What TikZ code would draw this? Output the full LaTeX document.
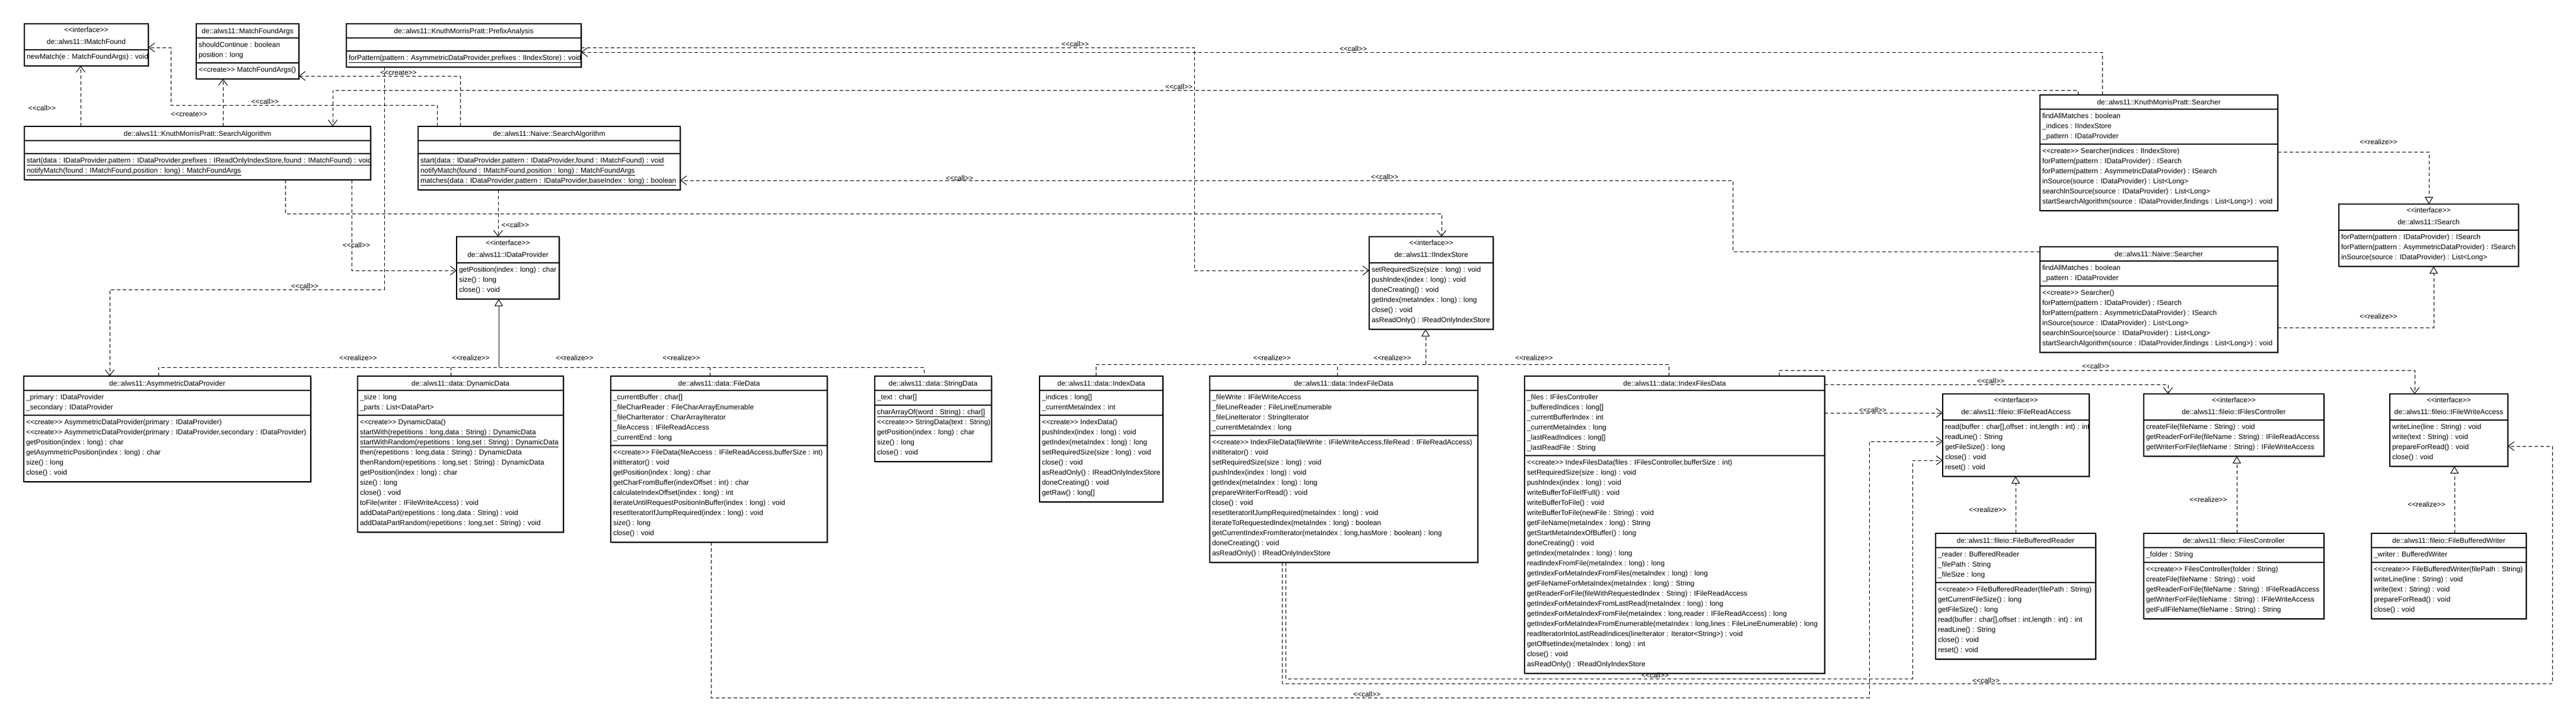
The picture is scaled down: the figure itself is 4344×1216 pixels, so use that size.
\documentclass[tikz,border=0pt]{standalone}
\usepackage{fontspec}
\setmainfont{Liberation Sans}
\usetikzlibrary{arrows.meta,shadows}
\newcounter{na}\newcounter{nm}
\newcommand\stq[1]{<\kern0pt<#1>\kern0pt>}
\newcommand\crt{\stq{create}}
\newcommand\itf{\stq{interface}}
\newcommand\cll{\stq{call}}
\newcommand\rlz{\stq{realize}}
\tikzset{
 clsbox/.style={draw=black, line width=1.3pt, fill=white, anchor=north west, inner sep=0pt, outer sep=0pt,
   general shadow={fill=black!30, shadow xshift=2pt, shadow yshift=-2pt}},
 sepline/.style={draw=black, line width=1.3pt},
 txt/.style={inner sep=0pt, outer sep=0pt, font=\fontsize{12}{14}\selectfont},
 lbl/.style={inner sep=0pt, outer sep=0pt, font=\fontsize{12}{14}\selectfont},
 dep/.style={draw=black, line width=1pt, dash pattern=on 6pt off 4pt, -{Straight Barb[length=10pt,width=15pt]}},
 real/.style={draw=black, line width=1pt, dash pattern=on 6pt off 4pt, -{Triangle[open,length=12pt,width=14pt]}},
 realline/.style={draw=black, line width=1pt, dash pattern=on 6pt off 4pt},
}
% #1 name, #2 x1, #3 y1, #4 x2, #5 header kind (c/i), #6 title, #7 attr mode (n/e/a), #8 attrs, #9 methods
\newcommand\umlclass[9]{%
  \pgfmathsetmacro\ucx{(#2+#4)/2}%
  \pgfmathsetmacro\ubw{#4-#2}%
  \if#5i\def\uhh{44}\else\def\uhh{24}\fi
  \setcounter{na}{0}\setcounter{nm}{0}%
  \if#7a\foreach \itm in {#8}{\stepcounter{na}}\fi
  \foreach \itm in {#9}{\stepcounter{nm}}%
  \if#7n\def\uah{0}\else\if#7e\def\uah{22}\else\pgfmathsetmacro\uah{17*\the\value{na}+8}\fi\fi
  \pgfmathsetmacro\umh{17*\the\value{nm}+10}%
  \pgfmathsetmacro\usa{#3+\uhh}%
  \pgfmathsetmacro\usm{\usa+\uah}%
  \pgfmathsetmacro\ubh{\uhh+\uah+\umh}%
  \node[clsbox, minimum width=\ubw pt, minimum height=\ubh pt] (#1) at (#2,#3) {};
  \draw[sepline] (#2,\usa) -- (#4,\usa);
  \if#7n\else\draw[sepline] (#2,\usm) -- (#4,\usm);\fi
  \if#5i
    \node[txt, anchor=base] (#1-st) at (\ucx,#3+14) {\itf};
    \node[txt, anchor=base] (#1-ti) at (\ucx,#3+34) {#6};
  \else
    \node[txt, anchor=base] (#1-ti) at (\ucx,#3+16) {#6};
  \fi
  \if#7a\foreach \itm [count=\ii] in {#8}{\node[txt, anchor=base west] (#1-a\ii) at (#2+4,\usa+15+17*\ii-17) {\itm};}\fi
  \foreach \itm [count=\ii] in {#9}{\node[txt, anchor=base west] (#1-m\ii) at (#2+4,\usm+15+17*\ii-17) {\itm};}%
}
\begin{document}
\begin{tikzpicture}[x=1pt,y=-1pt]
\useasboundingbox (0,0) rectangle (4344,1216);
\fill[white] (0,0) rectangle (4344,1216);

% ---------- classes ----------
\umlclass{imf}{41}{40}{250}{i}{de::alws11::IMatchFound}{n}{}{{newMatch(e : MatchFoundArgs) : void}}
\umlclass{mfa}{331}{40}{504}{c}{de::alws11::MatchFoundArgs}{a}{{shouldContinue : boolean},{position : long}}{{\crt{} MatchFoundArgs()}}
\umlclass{pre}{584}{40}{980}{c}{de::alws11::KnuthMorrisPratt::PrefixAnalysis}{e}{}{{\underline{forPattern(pattern : AsymmetricDataProvider,prefixes : IIndexStore) : void}}}
\umlclass{kmpsa}{41}{213}{625}{c}{de::alws11::KnuthMorrisPratt::SearchAlgorithm}{e}{}{{\underline{start(data : IDataProvider,pattern : IDataProvider,prefixes : IReadOnlyIndexStore,found : IMatchFound) : void}},{\underline{notifyMatch(found : IMatchFound,position : long) : MatchFoundArgs}}}
\umlclass{nsa}{705}{213}{1147}{c}{de::alws11::Naive::SearchAlgorithm}{e}{}{{\underline{start(data : IDataProvider,pattern : IDataProvider,found : IMatchFound) : void}},{\underline{notifyMatch(found : IMatchFound,position : long) : MatchFoundArgs}},{\underline{matches(data : IDataProvider,pattern : IDataProvider,baseIndex : long) : boolean}}}
\umlclass{idp}{770}{399}{943}{i}{de::alws11::IDataProvider}{n}{}{{getPosition(index : long) : char},{size() : long},{close() : void}}
\umlclass{asym}{40}{634}{524}{c}{de::alws11::AsymmetricDataProvider}{a}{{\_primary : IDataProvider},{\_secondary : IDataProvider}}{{\crt{} AsymmetricDataProvider(primary : IDataProvider)},{\crt{} AsymmetricDataProvider(primary : IDataProvider,secondary : IDataProvider)},{getPosition(index : long) : char},{getAsymmetricPosition(index : long) : char},{size() : long},{close() : void}}
\umlclass{dyn}{603}{634}{950}{c}{de::alws11::data::DynamicData}{a}{{\_size : long},{\_parts : List<DataPart>}}{{\crt{} DynamicData()},{\underline{startWith(repetitions : long,data : String) : DynamicData}},{\underline{startWithRandom(repetitions : long,set : String) : DynamicData}},{then(repetitions : long,data : String) : DynamicData},{thenRandom(repetitions : long,set : String) : DynamicData},{getPosition(index : long) : char},{size() : long},{close() : void},{toFile(writer : IFileWriteAccess) : void},{addDataPart(repetitions : long,data : String) : void},{addDataPartRandom(repetitions : long,set : String) : void}}
\umlclass{fdat}{1030}{634}{1395}{c}{de::alws11::data::FileData}{a}{{\_currentBuffer : char[]},{\_fileCharReader : FileCharArrayEnumerable},{\_fileCharIterator : CharArrayIterator},{\_fileAccess : IFileReadAccess},{\_currentEnd : long}}{{\crt{} FileData(fileAccess : IFileReadAccess,bufferSize : int)},{initIterator() : void},{getPosition(index : long) : char},{getCharFromBuffer(indexOffset : int) : char},{calculateIndexOffset(index : long) : int},{iterateUntilRequestPositionInBuffer(index : long) : void},{resetIteratorIfJumpRequired(index : long) : void},{size() : long},{close() : void}}
\umlclass{sdat}{1475}{634}{1672}{c}{de::alws11::data::StringData}{a}{{\_text : char[]}}{{\underline{charArrayOf(word : String) : char[]}},{\crt{} StringData(text : String)},{getPosition(index : long) : char},{size() : long},{close() : void}}
\umlclass{idat}{1753}{634}{1961}{c}{de::alws11::data::IndexData}{a}{{\_indices : long[]},{\_currentMetaIndex : int}}{{\crt{} IndexData()},{pushIndex(index : long) : void},{getIndex(metaIndex : long) : long},{setRequiredSize(size : long) : void},{close() : void},{asReadOnly() : IReadOnlyIndexStore},{doneCreating() : void},{getRaw() : long[]}}
\umlclass{ifd}{2040}{634}{2492}{c}{de::alws11::data::IndexFileData}{a}{{\_fileWrite : IFileWriteAccess},{\_fileLineReader : FileLineEnumerable},{\_fileLineIterator : StringIterator},{\_currentMetaIndex : long}}{{\crt{} IndexFileData(fileWrite : IFileWriteAccess,fileRead : IFileReadAccess)},{initIterator() : void},{setRequiredSize(size : long) : void},{pushIndex(index : long) : void},{getIndex(metaIndex : long) : long},{prepareWriterForRead() : void},{close() : void},{resetIteratorIfJumpRequired(metaIndex : long) : void},{iterateToRequestedIndex(metaIndex : long) : boolean},{getCurrentIndexFromIterator(metaIndex : long,hasMore : boolean) : long},{doneCreating() : void},{asReadOnly() : IReadOnlyIndexStore}}
\umlclass{ifsd}{2571}{634}{3077}{c}{de::alws11::data::IndexFilesData}{a}{{\_files : IFilesController},{\_bufferedIndices : long[]},{\_currentBufferIndex : int},{\_currentMetaIndex : long},{\_lastReadIndices : long[]},{\_lastReadFile : String}}{{\crt{} IndexFilesData(files : IFilesController,bufferSize : int)},{setRequiredSize(size : long) : void},{pushIndex(index : long) : void},{writeBufferToFileIfFull() : void},{writeBufferToFile() : void},{writeBufferToFile(newFile : String) : void},{getFileName(metaIndex : long) : String},{getStartMetaIndexOfBuffer() : long},{doneCreating() : void},{getIndex(metaIndex : long) : long},{readIndexFromFile(metaIndex : long) : long},{getIndexForMetaIndexFromFiles(metaIndex : long) : long},{getFileNameForMetaIndex(metaIndex : long) : String},{getReaderForFile(fileWithRequestedIndex : String) : IFileReadAccess},{getIndexForMetaIndexFromLastRead(metaIndex : long) : long},{getIndexForMetaIndexFromFile(metaIndex : long,reader : IFileReadAccess) : long},{getIndexForMetaIndexFromEnumerable(metaIndex : long,lines : FileLineEnumerable) : long},{readIteratorIntoLastReadIndices(lineIterator : Iterator<String>) : void},{getOffsetIndex(metaIndex : long) : int},{close() : void},{asReadOnly() : IReadOnlyIndexStore}}
\umlclass{iis}{2309}{399}{2518}{i}{de::alws11::IIndexStore}{n}{}{{setRequiredSize(size : long) : void},{pushIndex(index : long) : void},{doneCreating() : void},{getIndex(metaIndex : long) : long},{close() : void},{asReadOnly() : IReadOnlyIndexStore}}
\umlclass{ifra}{3276}{664}{3523}{i}{de::alws11::fileio::IFileReadAccess}{n}{}{{read(buffer : char[],offset : int,length : int) : int},{readLine() : String},{getFileSize() : long},{close() : void},{reset() : void}}
\umlclass{ifc}{3615}{664}{3919}{i}{de::alws11::fileio::IFilesController}{n}{}{{createFile(fileName : String) : void},{getReaderForFile(fileName : String) : IFileReadAccess},{getWriterForFile(fileName : String) : IFileWriteAccess}}
\umlclass{ifwa}{4030}{664}{4229}{i}{de::alws11::fileio::IFileWriteAccess}{n}{}{{writeLine(line : String) : void},{write(text : String) : void},{prepareForRead() : void},{close() : void}}
\umlclass{fbr}{3264}{899}{3534}{c}{de::alws11::fileio::FileBufferedReader}{a}{{\_reader : BufferedReader},{\_filePath : String},{\_fileSize : long}}{{\crt{} FileBufferedReader(filePath : String)},{getCurrentFileSize() : long},{getFileSize() : long},{read(buffer : char[],offset : int,length : int) : int},{readLine() : String},{close() : void},{reset() : void}}
\umlclass{fc}{3615}{899}{3919}{c}{de::alws11::fileio::FilesController}{a}{{\_folder : String}}{{\crt{} FilesController(folder : String)},{createFile(fileName : String) : void},{getReaderForFile(fileName : String) : IFileReadAccess},{getWriterForFile(fileName : String) : IFileWriteAccess},{getFullFileName(fileName : String) : String}}
\umlclass{fbw}{3999}{899}{4260}{c}{de::alws11::fileio::FileBufferedWriter}{a}{{\_writer : BufferedWriter}}{{\crt{} FileBufferedWriter(filePath : String)},{writeLine(line : String) : void},{write(text : String) : void},{prepareForRead() : void},{close() : void}}
\umlclass{kse}{3440}{160}{3841}{c}{de::alws11::KnuthMorrisPratt::Searcher}{a}{{findAllMatches : boolean},{\_indices : IIndexStore},{\_pattern : IDataProvider}}{{\crt{} Searcher(indices : IIndexStore)},{forPattern(pattern : IDataProvider) : ISearch},{forPattern(pattern : AsymmetricDataProvider) : ISearch},{inSource(source : IDataProvider) : List<Long>},{searchInSource(source : IDataProvider) : List<Long>},{startSearchAlgorithm(source : IDataProvider,findings : List<Long>) : void}}
\umlclass{nse}{3440}{416}{3841}{c}{de::alws11::Naive::Searcher}{a}{{findAllMatches : boolean},{\_pattern : IDataProvider}}{{\crt{} Searcher()},{forPattern(pattern : IDataProvider) : ISearch},{forPattern(pattern : AsymmetricDataProvider) : ISearch},{inSource(source : IDataProvider) : List<Long>},{searchInSource(source : IDataProvider) : List<Long>},{startSearchAlgorithm(source : IDataProvider,findings : List<Long>) : void}}
\umlclass{isr}{3944}{344}{4247}{i}{de::alws11::ISearch}{n}{}{{forPattern(pattern : IDataProvider) : ISearch},{forPattern(pattern : AsymmetricDataProvider) : ISearch},{inSource(source : IDataProvider) : List<Long>}}

% ---------- dependencies (call / create) ----------
\draw[dep] (136,0 |- kmpsa.north) -- (136,0 |- imf.south);
\node[lbl] (l01) at (71,182) {\cll};
\draw[dep] (376,0 |- kmpsa.north) -- (376,0 |- mfa.south);
\node[lbl] (l02) at (319,193) {\crt};
\draw[dep] (737,0 |- nsa.north) -- (737,177) -- (288,177) -- (288,80) -- (imf.east |- 0,80);
\node[lbl] (l03) at (447,171) {\cll};
\draw[dep] (776,0 |- nsa.north) -- (776,128) -- (mfa.east |- 0,128);
\node[lbl] (l04) at (672,123) {\crt};
\draw[dep] (648,0 |- pre.south) -- (648,488) -- (185,488) -- (185,0 |- asym.north);
\node[lbl] (l05) at (514,482) {\cll};
\draw[dep] (593,0 |- kmpsa.south) -- (593,456) -- (idp.west |- 0,456);
\node[lbl] (l06) at (601,413) {\cll};
\draw[dep] (481,0 |- kmpsa.south) -- (481,360) -- (2431,360) -- (2431,0 |- iis.north);
\draw[dep] (840,0 |- nsa.south) -- (840,0 |- idp.north);
\node[lbl] (l07) at (869,379) {\cll};
\draw[dep] (pre.east |- 0,80) -- (2014,80) -- (2014,456) -- (iis.west |- 0,456);
\node[lbl] (l08) at (1813,74) {\cll};
\draw[dep] (3545,0 |- kse.north) -- (3545,88) -- (pre.east |- 0,88);
\node[lbl] (l09) at (2282,82) {\cll};
\draw[dep] (3504,0 |- kse.north) -- (3504,152) -- (561,152) -- (561,0 |- kmpsa.north);
\node[lbl] (l10) at (1988,146) {\cll};
\draw[dep] (nse.west |- 0,424) -- (2922,424) -- (2922,304) -- (nsa.east |- 0,304);
\node[lbl] (l11) at (1618,300) {\cll};
\node[lbl] (l12) at (2335,298) {\cll};

% file access calls
\draw[dep] (3000,0 |- ifsd.north) -- (3000,624) -- (4072,624) -- (4072,0 |- ifwa.north);
\node[lbl] (l13) at (3534,617) {\cll};
\draw[dep] (ifsd.east |- 0,648) -- (3656,648) -- (3656,0 |- ifc.north);
\node[lbl] (l14) at (3357,642) {\cll};
\draw[dep] (ifsd.east |- 0,696) -- (ifra.west |- 0,696);
\node[lbl] (l15) at (3158,691) {\cll};
\draw[dep] (1199,0 |- fdat.south) -- (1199,1176) -- (3152,1176) -- (3152,744) -- (ifra.west |- 0,744);
\node[lbl] (l16) at (2305,1170) {\cll};
\draw[dep] (2168,0 |- ifd.south) -- (2168,1144) -- (3225,1144) -- (3225,776) -- (ifra.west |- 0,776);
\node[lbl] (l17) at (2791,1138) {\cll};
\draw[dep] (2162,0 |- ifd.south) -- (2162,1152) -- (4304,1152) -- (4304,752) -- (ifwa.east |- 0,752);
\node[lbl] (l18) at (3349,1147) {\cll};

% ---------- realizations ----------
\coordinate (idpj) at (841,619);
\draw[realline] (267,0 |- asym.north) -- (267,619) -- (1558,619) -- (1558,0 |- sdat.north);
\draw[realline] (760,0 |- dyn.north) -- (760,619);
\draw[realline] (1197,0 |- fdat.north) -- (1197,619);
\draw[line width=1pt, -{Triangle[open,length=12pt,width=14pt]}] (idpj) -- (841,0 |- idp.south);
\node[lbl] (r01) at (604,603) {\rlz};
\node[lbl] (r02) at (794,603) {\rlz};
\node[lbl] (r03) at (969,603) {\rlz};
\node[lbl] (r04) at (1149,603) {\rlz};

\coordinate (iisj) at (2404,614);
\draw[realline] (1848,0 |- idat.north) -- (1848,614) -- (2814,614) -- (2814,0 |- ifsd.north);
\draw[realline] (2255,0 |- ifd.north) -- (2255,614);
\draw[real] (iisj) -- (2404,0 |- iis.south);
\node[lbl] (r05) at (2145,603) {\rlz};
\node[lbl] (r06) at (2348,603) {\rlz};
\node[lbl] (r07) at (2587,603) {\rlz};

\draw[real] (kse.east |- 0,256) -- (4096,256) -- (4096,0 |- isr.north);
\node[lbl] (r08) at (4011,239) {\rlz};
\draw[real] (nse.east |- 0,552) -- (4104,552) -- (4104,0 |- isr.south);
\node[lbl] (r09) at (4011,533) {\rlz};

\draw[real] (3399,0 |- fbr.north) -- (3399,0 |- ifra.south);
\node[lbl] (r10) at (3352,859) {\rlz};
\draw[real] (3772,0 |- fc.north) -- (3772,0 |- ifc.south);
\node[lbl] (r11) at (3724,842) {\rlz};
\draw[real] (4139,0 |- fbw.north) -- (4139,0 |- ifwa.south);
\node[lbl] (r12) at (4092,850) {\rlz};
\end{tikzpicture}
\end{document}
